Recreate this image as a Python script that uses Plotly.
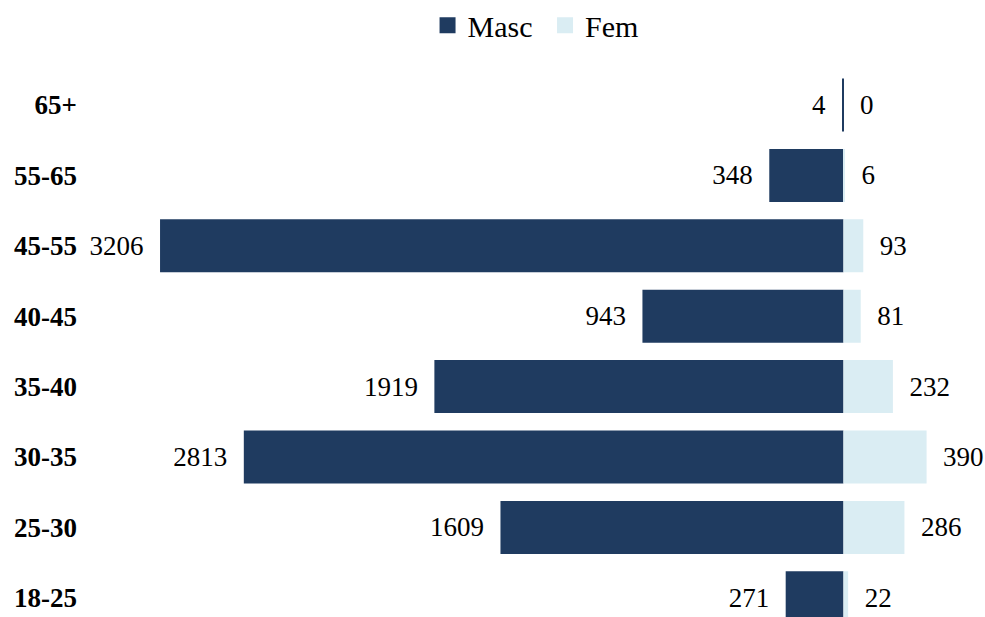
import plotly.graph_objects as go

categories = ["18-25", "25-30", "30-35", "35-40", "40-45", "45-55", "55-65", "65+"]
masc = [271, 1609, 2813, 1919, 943, 3206, 348, 4]
fem = [22, 286, 390, 232, 81, 93, 6, 0]
series_names = ["Masc", "Fem"]

MASC_COLOR = "#1F3B60"
FEM_COLOR = "#DAEDF3"
FONT = "'Times New Roman', 'Liberation Serif', serif"
NB = "\u00a0\u00a0"
TXT = dict(family=FONT, size=27, color="black")

fig = go.Figure()
fig.add_trace(go.Bar(
    y=categories, x=[-v for v in masc], orientation="h", name=series_names[0],
    marker=dict(color=MASC_COLOR, line=dict(width=0)),
    text=[f"{v}{NB}" for v in masc], textposition="outside", cliponaxis=False,
    textfont=TXT, outsidetextfont=TXT, constraintext="none", showlegend=False,
    hoverinfo="skip",
))
fig.add_trace(go.Bar(
    y=categories, x=fem, orientation="h", name=series_names[1],
    marker=dict(color=FEM_COLOR, line=dict(width=0)),
    text=[f"{NB}{v}" for v in fem], textposition="outside", cliponaxis=False,
    textfont=TXT, outsidetextfont=TXT, constraintext="none", showlegend=False,
    hoverinfo="skip",
))
# legend entries
for name, col in [(series_names[0] + "\u00a0", MASC_COLOR), (series_names[1], FEM_COLOR)]:
    fig.add_trace(go.Scatter(x=[None], y=[None], mode="markers", name=name,
                             marker=dict(symbol="square", size=16, color=col)))

fig.update_layout(
    width=985, height=617,
    margin=dict(l=85, r=0, t=70, b=0, autoexpand=False),
    plot_bgcolor="white", paper_bgcolor="white",
    barmode="overlay", bargap=0.247,
    font=dict(family=FONT, color="black"),
    legend=dict(orientation="h", x=0.5437, xanchor="center", y=0.959, yanchor="middle",
                xref="container", yref="container",
                font=dict(family=FONT, size=30), itemwidth=30,
                tracegroupgap=0),
    xaxis=dict(range=[-3558, 664], showgrid=False, zeroline=False,
               showticklabels=False, showline=False, fixedrange=True),
    yaxis=dict(categoryorder="array", categoryarray=categories,
               range=[-0.273, 7.497], showgrid=False, zeroline=False,
               showline=False, ticks="", automargin=False, ticklabelstandoff=7,
               tickfont=dict(family=FONT, size=27, color="black", weight="bold")),
)
fig.write_html("out.html", config={"displayModeBar": False},
               post_script="document.body.style.margin='0';")
